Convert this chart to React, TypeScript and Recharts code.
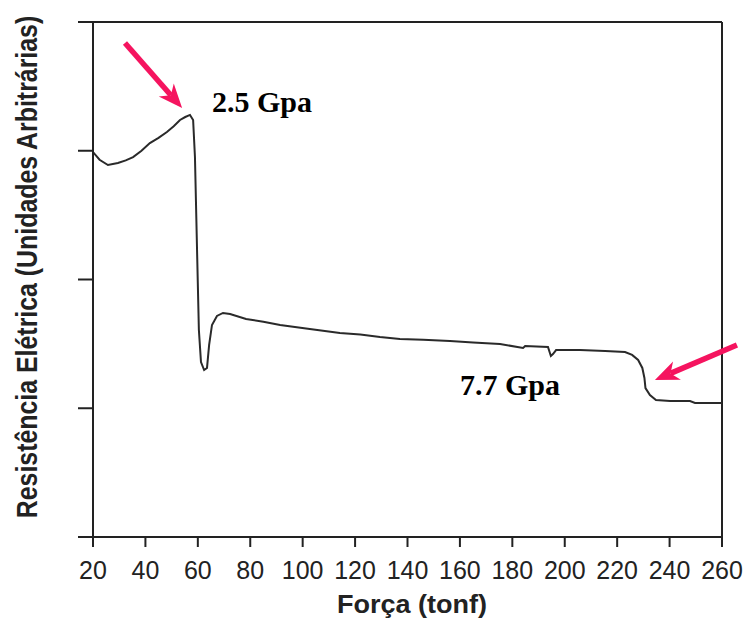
import React from 'react';
import { LineChart, Line, XAxis, YAxis, ReferenceLine, ReferenceDot, Label } from 'recharts';

// Força (tonf)
const forca = [
  20, 22.5, 25.7, 29.5, 32.5, 35.3, 38.5, 41.7, 45, 48.2, 50.8, 53.2, 55.2, 57.0, 58.2, 58.9, 59.7,
  60.4, 61.2, 62.4, 63.5, 64.3, 65.4, 67.3, 69.6, 72.3, 78.4, 85, 91.4, 102, 114.2, 122, 129.5,
  137.1, 146, 156.2, 165, 175.3, 184.1, 184.9, 193.6, 194.7, 195.5, 196.7, 205.8, 215.4, 223,
  225.7, 228, 229.6, 230.4, 230.8, 232.5, 234.8, 240.2, 247.8, 249.7, 260,
];
// Resistência (unidades arbitrárias)
const resistencia = [
  2.99, 2.93, 2.889, 2.905, 2.925, 2.951, 3.0, 3.06, 3.1, 3.146, 3.19, 3.239, 3.262, 3.278, 3.239,
  2.951, 2.229, 1.608, 1.359, 1.297, 1.313, 1.491, 1.647, 1.717, 1.74, 1.732, 1.693, 1.672, 1.647,
  1.618, 1.584, 1.572, 1.553, 1.538, 1.532, 1.522, 1.51, 1.499, 1.468, 1.483, 1.476, 1.406, 1.421,
  1.452, 1.452, 1.445, 1.437, 1.414, 1.375, 1.313, 1.235, 1.157, 1.103, 1.064, 1.056, 1.056, 1.041,
  1.041,
];

const xTicks = [20, 40, 60, 80, 100, 120, 140, 160, 180, 200, 220, 240, 260];
const yTicks = [0, 1, 2, 3, 4];

const arrowA = [{ x: 32.2, y: 3.837 }, { x: 54.0, y: 3.332 }];
const arrowB = [{ x: 265.7, y: 1.491 }, { x: 234.4, y: 1.219 }];
const note1 = { x: 65.4, y: 3.301, text: '2.5 Gpa' };
const note2 = { x: 160.0, y: 1.103, text: '7.7 Gpa' };

const data = forca.map((f, i) => ({ x: f, r: resistencia[i] }));

const PINK = '#f5145f';
const INK = '#222';

const ArrowShape = (props: any) => {
  const { x1, y1, x2, y2 } = props;
  if ([x1, y1, x2, y2].some((v) => v == null || isNaN(v))) return <g />;
  const dx = x2 - x1;
  const dy = y2 - y1;
  const len = Math.sqrt(dx * dx + dy * dy);
  const ux = dx / len;
  const uy = dy / len;
  const px = -uy;
  const py = ux;
  const headL = 24;
  const headW = 10;
  const notch = 7;
  const bx = x2 - ux * headL;
  const by = y2 - uy * headL;
  const nx = x2 - ux * (headL - notch);
  const ny = y2 - uy * (headL - notch);
  const pts = [
    [x2, y2],
    [bx + px * headW, by + py * headW],
    [nx, ny],
    [bx - px * headW, by - py * headW],
  ]
    .map((p) => p.join(','))
    .join(' ');
  return (
    <g>
      <line x1={x1} y1={y1} x2={nx} y2={ny} stroke={PINK} strokeWidth={5.5} />
      <polygon points={pts} fill={PINK} />
    </g>
  );
};

const noteShape = (text: string) => (props: any) => (
  <text
    x={props.cx}
    y={props.cy}
    fontFamily="'Liberation Serif', 'Times New Roman', serif"
    fontWeight="bold"
    fontSize={30}
    fill="#000"
  >
    {text}
  </text>
);

export default function App() {
  return (
    <LineChart width={745} height={613} data={data} margin={{ top: 14, right: 31, bottom: 44, left: 70 }}>
      <XAxis
        dataKey="x"
        type="number"
        domain={[20, 260]}
        ticks={xTicks}
        interval={0}
        allowDataOverflow
        tickSize={10}
        tickMargin={14}
        height={40}
        axisLine={{ stroke: INK, strokeWidth: 2 }}
        tickLine={{ stroke: INK, strokeWidth: 2 }}
        tick={{ fontSize: 25, fill: INK, fontFamily: "'Liberation Sans', Arial, sans-serif" }}
      >
        <Label
          content={() => (
            <text
              x={404}
              y={605}
              textAnchor="middle"
              fontFamily="'Liberation Sans', Arial, sans-serif"
              fontWeight="bold"
              fontSize={25}
              fill={INK}
              textLength={150}
              lengthAdjust="spacingAndGlyphs"
            >
              Força (tonf)
            </text>
          )}
        />
      </XAxis>
      <YAxis
        type="number"
        domain={[0, 4]}
        ticks={yTicks}
        width={15}
        tickSize={15}
        axisLine={{ stroke: INK, strokeWidth: 2 }}
        tickLine={{ stroke: INK, strokeWidth: 2 }}
        tickFormatter={() => ''}
      >
        <Label
          content={() => (
            <g transform="translate(29 259) rotate(-90) scale(0.83 1)">
              <text
                x={0}
                y={0}
                textAnchor="middle"
                fontFamily="'Liberation Sans', Arial, sans-serif"
                fontWeight="bold"
                fontSize={30}
                fill={INK}
              >
                Resistência Elétrica (Unidades Arbitrárias)
              </text>
            </g>
          )}
        />
      </YAxis>
      <ReferenceLine y={4} stroke={INK} strokeWidth={2} />
      <ReferenceLine x={260} stroke={INK} strokeWidth={2} />
      <Line
        type="linear"
        dataKey="r"
        stroke="#2a2a2a"
        strokeWidth={2}
        dot={false}
        isAnimationActive={false}
      />
      <ReferenceLine segment={arrowA} ifOverflow="visible" shape={ArrowShape} />
      <ReferenceLine segment={arrowB} ifOverflow="visible" shape={ArrowShape} />
      <ReferenceDot x={note1.x} y={note1.y} ifOverflow="visible" shape={noteShape(note1.text)} />
      <ReferenceDot x={note2.x} y={note2.y} ifOverflow="visible" shape={noteShape(note2.text)} />
    </LineChart>
  );
}
